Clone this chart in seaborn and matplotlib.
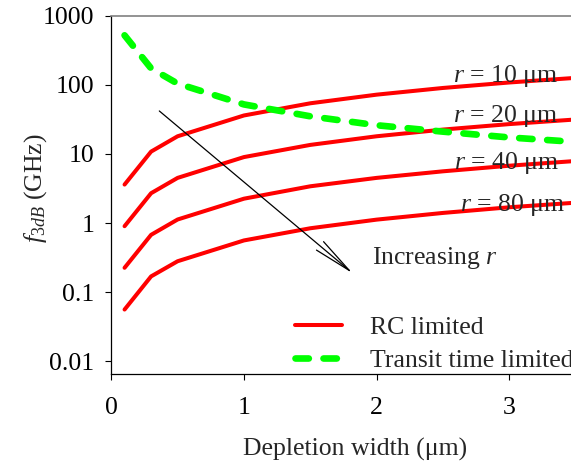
import numpy as np
import pandas as pd
import matplotlib
matplotlib.use("Agg")
import matplotlib.pyplot as plt
import seaborn as sns

# ---- data ----
depletion_width = [0.1, 0.3, 0.5, 1.0, 1.5, 2.0, 2.5, 3.0, 3.5]
rc_r10 = [3.6, 10.8, 18, 36, 54, 72, 90, 108, 126]
rc_r20 = [0.9, 2.7, 4.5, 9.0, 13.5, 18, 22.5, 27, 31.5]
rc_r40 = [0.225, 0.675, 1.125, 2.25, 3.4, 4.5, 5.6, 6.75, 7.9]
rc_r80 = [0.056, 0.169, 0.28, 0.56, 0.84, 1.12, 1.4, 1.69, 1.97]
transit = [520, 173, 104, 52, 35, 26, 21, 17.3, 14.9]
radius_labels = ["r = 10 μm", "r = 20 μm", "r = 40 μm", "r = 80 μm"]

sns.set_theme(style="white")
plt.rcParams["font.family"] = ["Liberation Serif", "DejaVu Serif"]
plt.rcParams["mathtext.fontset"] = "custom"
plt.rcParams["mathtext.rm"] = "Liberation Serif"
plt.rcParams["mathtext.it"] = "Liberation Serif:italic"

FS = 18.5

rc_df = pd.DataFrame({
    "W": depletion_width * 4,
    "f": rc_r10 + rc_r20 + rc_r40 + rc_r80,
    "r": sum([[lab] * len(depletion_width) for lab in radius_labels], []),
})
tr_df = pd.DataFrame({"W": depletion_width, "f": transit})

fig = plt.figure(figsize=(5.71, 4.68), dpi=100)
ax = fig.add_axes([0.1949, 0.2009, 0.8051, 0.7656])

sns.lineplot(data=rc_df, x="W", y="f", units="r", estimator=None,
             color="#ff0000", lw=2.9, ax=ax, legend=False, label="RC limited")
sns.lineplot(data=tr_df, x="W", y="f", color="#00ff00", lw=4.8,
             dashes=False, ax=ax, legend=False, label="Transit time limited")
for ln in ax.get_lines():
    ln.set_solid_capstyle("round")
green = ax.get_lines()[-1]
green.set_linestyle((0, (2.0, 2.2)))
green.set_dash_capstyle("round")

ax.set_yscale("log")
ax.set_xlim(0, 3.465)
ax.set_ylim(10 ** -2.184, 1000)
ax.set_yticks([0.01, 0.1, 1, 10, 100, 1000])
ax.set_yticklabels(["0.01", "0.1", "1", "10", "100", "1000"])
ax.minorticks_off()
ax.set_xticks([0, 1, 2, 3])
ax.set_xticklabels(["0", "1", "2", "3"])
ax.tick_params(axis="both", direction="out", length=4.5, width=0.8,
               labelsize=FS, color="black", labelcolor="black")
ax.tick_params(axis="y", pad=7.5, left=True)
ax.tick_params(axis="x", pad=12, bottom=True)

for s in ["left", "bottom"]:
    ax.spines[s].set_color("black")
    ax.spines[s].set_linewidth(0.9)
ax.spines["top"].set_color("#808080")
ax.spines["top"].set_linewidth(1.2)
ax.spines["right"].set_visible(False)

ax.set_xlabel("Depletion width (μm)", fontsize=FS)
ax.xaxis.set_label_coords(0.530, -0.212)
ax.xaxis.label.set_va("center")
ax.set_ylabel(r"$f_{\mathit{3dB}}$ (GHz)", fontsize=FS)
ax.yaxis.set_label_coords(-0.164, 0.519)
ax.yaxis.label.set_va("center")

# curve labels
label_pos = [(3.366, 135), (3.366, 35.5), (3.374, 7.5), (3.419, 1.84)]
for (lx, ly), lab in zip(label_pos, radius_labels):
    txt = "$r$" + lab[1:]
    ax.text(lx, ly, txt, ha="right", va="center", fontsize=FS)

ax.annotate("", xy=(1.82, 0.187), xytext=(0.362, 41.8),
            arrowprops=dict(arrowstyle="->,head_length=2.3,head_width=0.33",
                            color="black", lw=0.9, shrinkA=0, shrinkB=0))
ax.text(1.962, 0.311, "Increasing $r$", ha="left", va="center", fontsize=FS)

handles, labels = ax.get_legend_handles_labels()
keep = {}
for h, l in zip(handles, labels):
    if l in ("RC limited", "Transit time limited") and l not in keep:
        keep[l] = h
leg = ax.legend([keep["RC limited"], keep["Transit time limited"]],
                ["RC limited", "Transit time limited"],
                loc="upper left", bbox_to_anchor=(0.3996, 0.163),
                frameon=False, fontsize=FS, handlelength=1.82,
                handletextpad=1.1, labelspacing=0.4, borderpad=0,
                borderaxespad=0)

fig.savefig("out.png", dpi=100)
